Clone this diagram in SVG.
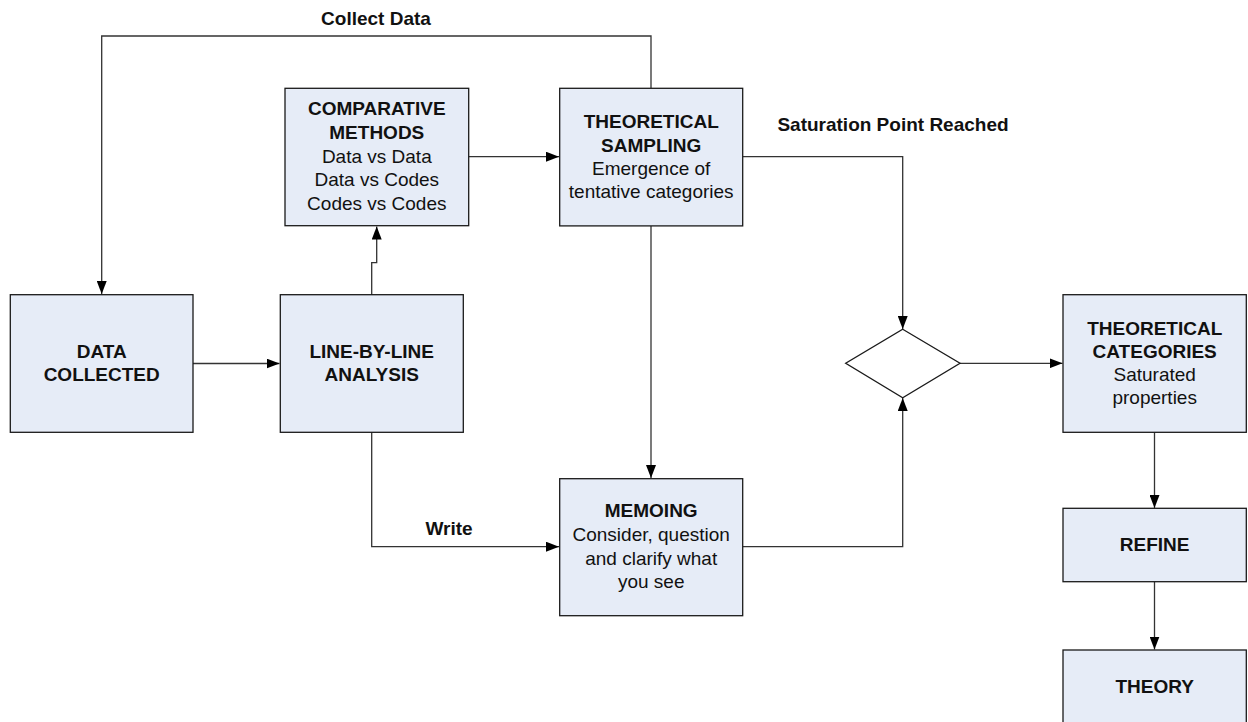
<svg xmlns="http://www.w3.org/2000/svg" width="1248" height="722" viewBox="0 0 1248 722">
<defs>
<marker id="arr" markerUnits="userSpaceOnUse" markerWidth="13" markerHeight="10" refX="13" refY="5" orient="auto">
<path d="M0,0 L13,5 L0,10 z" fill="#000"/>
</marker>
<style>
.box{fill:#E6ECF7;stroke:#1a1a1a;stroke-width:1.3}
.dia{fill:#fff;stroke:#1a1a1a;stroke-width:1.3}
.c{fill:none;stroke:#333;stroke-width:1.3}
text{font-family:"Liberation Sans",Arial,sans-serif;font-size:19px;fill:#111;text-anchor:middle}
.b{font-weight:bold}
</style>
</defs>
<rect width="1248" height="722" fill="#fff"/>
<g id="connectors">
<path class="c" d="M651,88 V36 H101.7 V294" marker-end="url(#arr)"/>
<path class="c" d="M193,363.5 H279.5" marker-end="url(#arr)"/>
<path class="c" d="M371.7,295 V262.7 H376.7 V226.5" marker-end="url(#arr)"/>
<path class="c" d="M468.7,156.7 H559" marker-end="url(#arr)"/>
<path class="c" d="M651,226 V478" marker-end="url(#arr)"/>
<path class="c" d="M371.7,432 V546.7 H559" marker-end="url(#arr)"/>
<path class="c" d="M742.7,156.7 H902.7 V329" marker-end="url(#arr)"/>
<path class="c" d="M742.7,546.7 H902.7 V398" marker-end="url(#arr)"/>
<path class="c" d="M960,363.3 H1062.5" marker-end="url(#arr)"/>
<path class="c" d="M1154.5,432.3 V508" marker-end="url(#arr)"/>
<path class="c" d="M1154.5,581.7 V649.5" marker-end="url(#arr)"/>
<text class="b" x="376" y="25">Collect Data</text>
<text class="b" x="893" y="130.7">Saturation Point Reached</text>
<text class="b" x="449" y="535">Write</text>
</g>
<g id="data-collected">
<rect class="box" x="10.3" y="294.7" width="182.7" height="137.6"/>
<text class="b" x="101.7" y="358.3">DATA</text>
<text class="b" x="101.7" y="381">COLLECTED</text>
</g>
<g id="line-by-line">
<rect class="box" x="280.3" y="294.7" width="183" height="137.6"/>
<text class="b" x="371.7" y="358.3">LINE-BY-LINE</text>
<text class="b" x="371.7" y="381">ANALYSIS</text>
</g>
<g id="comparative-methods">
<rect class="box" x="285" y="88.3" width="183.7" height="137.4"/>
<text class="b" x="376.8" y="115">COMPARATIVE</text>
<text class="b" x="376.8" y="138.5">METHODS</text>
<text x="376.8" y="162.5">Data vs Data</text>
<text x="376.8" y="186">Data vs Codes</text>
<text x="376.8" y="209.5">Codes vs Codes</text>
</g>
<g id="theoretical-sampling">
<rect class="box" x="559.7" y="88.3" width="183" height="137.6"/>
<text class="b" x="651.2" y="128.3">THEORETICAL</text>
<text class="b" x="651.2" y="151.7">SAMPLING</text>
<text x="651.2" y="175">Emergence of</text>
<text x="651.2" y="198.3">tentative categories</text>
</g>
<g id="memoing">
<rect class="box" x="559.7" y="478.7" width="183" height="137"/>
<text class="b" x="651.2" y="517.3">MEMOING</text>
<text x="651.2" y="541">Consider, question</text>
<text x="651.2" y="564.5">and clarify what</text>
<text x="651.2" y="588">you see</text>
</g>
<g id="decision">
<polygon class="dia" points="902.7,329.3 960,363.3 902.7,397.7 845.7,363.3"/>
</g>
<g id="theoretical-categories">
<rect class="box" x="1063" y="294.7" width="183.3" height="137.6"/>
<text class="b" x="1154.7" y="335">THEORETICAL</text>
<text class="b" x="1154.7" y="357.7">CATEGORIES</text>
<text x="1154.7" y="381">Saturated</text>
<text x="1154.7" y="404">properties</text>
</g>
<g id="refine">
<rect class="box" x="1063" y="508.3" width="183.3" height="73.4"/>
<text class="b" x="1154.7" y="550.7">REFINE</text>
</g>
<g id="theory">
<rect class="box" x="1063" y="650" width="183.3" height="76"/>
<text class="b" x="1154.7" y="693.3">THEORY</text>
</g>
</svg>
